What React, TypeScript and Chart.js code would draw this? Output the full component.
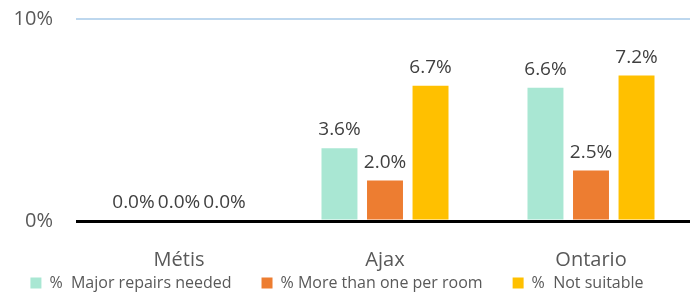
import React, { useEffect, useRef } from "react";
import { Chart, registerables } from "chart.js";

Chart.register(...registerables);

const categories = ["Métis", "Ajax", "Ontario"];
const majorRepairs = [0.0, 3.6, 6.6];
const moreThanOnePerRoom = [0.0, 2.0, 2.5];
const notSuitable = [0.0, 6.7, 7.2];
const seriesLabels = ["%  Major repairs needed", "% More than one per room", "%  Not suitable"];
const seriesColors = ["#A9E7D3", "#ED7D31", "#FFC000"];
const yTickValues = [0, 10];

const FONT = '"Open Sans", "Noto Sans", sans-serif';

const valueLabels = {
  id: "valueLabels",
  afterDatasetsDraw(chart: any) {
    const ctx = chart.ctx;
    ctx.save();
    ctx.font = `19px ${FONT}`;
    ctx.fillStyle = "#404040";
    ctx.textAlign = "center";
    ctx.textBaseline = "alphabetic";
    chart.data.datasets.forEach((ds: any, i: number) => {
      const meta = chart.getDatasetMeta(i);
      meta.data.forEach((bar: any, j: number) => {
        const v = ds.data[j] as number;
        ctx.fillText(v.toFixed(1) + "%", bar.x, bar.y - 13);
      });
    });
    ctx.restore();
  },
};

// let the category labels draw below the (deliberately short) x-axis box
const widenXLabelArea = {
  id: "widenXLabelArea",
  beforeDraw(chart: any) {
    const x = chart.scales.x;
    if (x) x.bottom = x.top + 60;
  },
};

export default function App() {
  const ref = useRef<HTMLCanvasElement | null>(null);

  useEffect(() => {
    if (!ref.current) return;
    const series = [majorRepairs, moreThanOnePerRoom, notSuitable];
    const chart = new Chart(ref.current, {
      type: "bar",
      data: {
        labels: categories,
        datasets: series.map((d, i) => ({
          label: seriesLabels[i],
          data: d,
          backgroundColor: seriesColors[i],
          borderWidth: 0,
          categoryPercentage: 0.663,
          barPercentage: 0.79,
        })),
      },
      options: {
        responsive: false,
        animation: false,
        devicePixelRatio: 1,
        layout: { padding: { top: 19, left: 0, right: 0, bottom: 0 } },
        scales: {
          x: {
            grid: { display: false, drawTicks: false },
            border: { display: false },
            ticks: {
              padding: 27,
              color: "#595959",
              font: { size: 20, family: FONT },
            },
            afterFit: (s: any) => {
              s.height = 24;
            },
          },
          y: {
            min: 0,
            max: 10,
            afterBuildTicks: (s: any) => {
              s.ticks = yTickValues.map((v) => ({ value: v }));
            },
            ticks: {
              padding: 23,
              color: "#595959",
              font: { size: 20, family: FONT },
              callback: (v: any) => v + "%",
            },
            grid: {
              drawTicks: false,
              z: 1,
              color: (c: any) => (c.tick && c.tick.value === 0 ? "#000000" : "#BDD7EE"),
              lineWidth: (c: any) => (c.tick && c.tick.value === 0 ? 3 : 2),
            },
            border: { display: false },
            afterFit: (s: any) => {
              s.width = 96;
              s.paddingTop = 0;
              s.paddingBottom = 0;
            },
          },
        },
        plugins: {
          legend: {
            position: "bottom",
            labels: {
              boxWidth: 11,
              boxHeight: 11,
              padding: 30,
              color: "#595959",
              font: { size: 16, family: FONT },
            },
          },
          tooltip: { enabled: false },
        },
      },
      plugins: [valueLabels, widenXLabelArea],
    } as any);
    return () => chart.destroy();
  }, []);

  return (
    <div style={{ position: "fixed", left: -20, top: 0, width: 714, height: 301, background: "#fff" }}>
      <canvas ref={ref} width={714} height={301} style={{ width: 714, height: 301 }} />
    </div>
  );
}
